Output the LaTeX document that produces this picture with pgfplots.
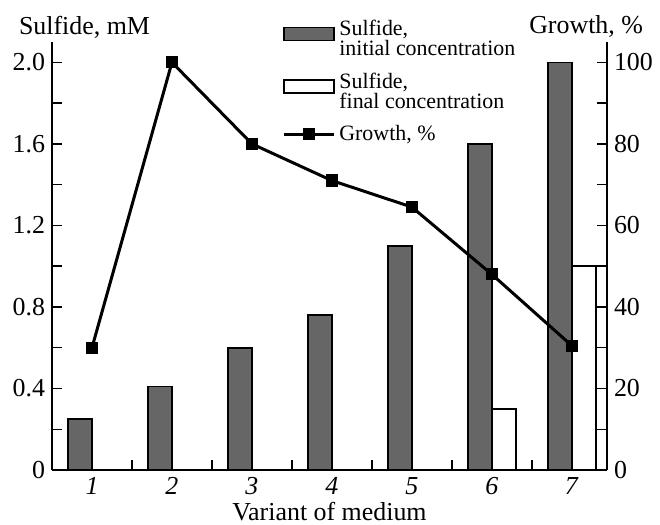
\documentclass[border=0pt]{standalone}
\usepackage{pgfplots}
\pgfplotsset{compat=1.18}
\usepackage{fontspec}
\setmainfont{Liberation Serif}
\usetikzlibrary{calc}
\pgfplotsset{
  rectleg/.style={legend image code/.code={\draw[##1] (0bp,-0.5bp) rectangle (25bp,6bp);}},
  lineleg/.style={legend image code/.code={\draw[mark repeat=2,mark phase=2,##1] plot coordinates {(0bp,0bp)(12.5bp,0bp)(25bp,0bp)};}},
}
\begin{document}
\begin{tikzpicture}
\pgfplotsset{
  every axis/.append style={
    scale only axis, width=277.5bp, height=214bp,
    xmin=0.5, xmax=7.44, clip=false,
    font=\fontsize{13}{15}\selectfont,
    /pgf/number format/assume math mode=true,
    tick align=inside,
    major tick length=5bp, minor tick length=5bp,
    every tick/.style={black, line width=0.7pt},
    axis line style={-, line width=0.9pt},
  }
}
\begin{axis}[
  name=ax,
  axis y line*=left, axis x line*=bottom,
  ymin=0, ymax=2.1,
  ytick={0,0.4,0.8,1.2,1.6,2.0}, yticklabels={0,0.4,0.8,1.2,1.6,2.0},
  minor ytick={0.2,0.6,1.0,1.4,1.8},
  xtick={1,2,3,4,5,6,7},
  xticklabels={\textit{1},\textit{2},\textit{3},\textit{4},\textit{5},\textit{6},\textit{7}},
  minor xtick={1.5,2.5,3.5,4.5,5.5,6.5},
  major x tick style={draw=none},
  xlabel={Variant of medium},
  xlabel style={yshift=3bp},
  legend cell align=left,
  legend style={at={(rel axis cs:0.4144,1)}, anchor=north west, yshift=13bp,
    draw=none, fill=none, inner sep=0pt, row sep=3bp,
    font=\fontsize{11}{10}\selectfont, cells={align=left}},
]
\addplot[ybar, bar width=12bp, bar shift=-6bp, fill=black!60, draw=black, line width=0.8pt, rectleg]
  coordinates {(1,0.25)(2,0.41)(3,0.6)(4,0.76)(5,1.1)(6,1.6)(7,2.0)};
\addlegendentry{Sulfide,\\initial concentration}
\addplot[ybar, bar width=12bp, bar shift=6bp, fill=white, draw=black, line width=0.8pt, rectleg]
  coordinates {(6,0.3)(7,1.0)};
\addlegendentry{Sulfide,\\final concentration}
\addlegendimage{black, line width=1.5bp, mark=square*, mark size=2.3bp, lineleg}
\addlegendentry{Growth, \%}
\node[anchor=base west, font=\fontsize{13}{15}\selectfont] at ($(rel axis cs:0,1)+(-20bp,4bp)$) {Sulfide, mM};
\end{axis}
\begin{axis}[
  axis y line*=right, axis x line=none,
  ymin=0, ymax=105,
  ytick={0,20,40,60,80,100},
  minor ytick={10,30,50,70,90},
]
\addplot[black, line width=1.5bp, mark=square*, mark size=2.3bp]
  coordinates {(1,30)(2,100)(3,80)(4,71)(5,64.5)(6,48)(7,30.5)};
\node[anchor=base east, font=\fontsize{13}{15}\selectfont] at ($(rel axis cs:1,1)+(21.5bp,4bp)$) {Growth, \%};
\end{axis}
\pgfresetboundingbox
\path[use as bounding box] ($(ax.south west)+(-26bp,-27.5bp)$) rectangle ($(ax.north east)+(26.5bp,21bp)$);
\end{tikzpicture}
\end{document}
